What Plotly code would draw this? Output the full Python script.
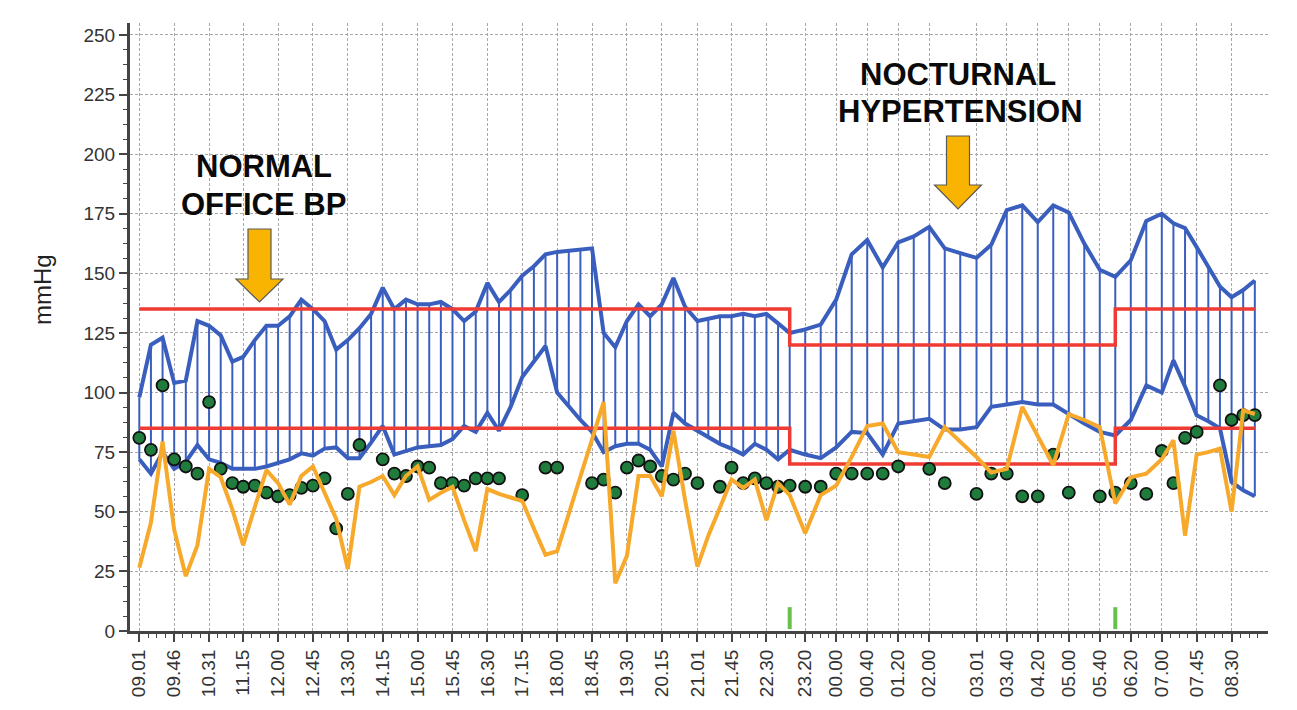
import plotly.graph_objects as go
from datetime import datetime, timedelta

# ---------------- data ----------------
times = [
    # daytime readings
    "09.01", "09.16", "09.31", "09.46", "10.01", "10.16", "10.31", "10.46", "11.01", "11.15",
    "11.30", "11.45", "12.00", "12.15", "12.30", "12.45", "13.00", "13.15", "13.30", "13.45",
    "14.00", "14.15", "14.30", "14.45", "15.00", "15.15", "15.30", "15.45", "16.00", "16.15",
    "16.30", "16.45", "17.00", "17.15", "17.30", "17.45", "18.00", "18.15", "18.30", "18.45",
    "19.00", "19.15", "19.30", "19.45", "20.00", "20.15", "20.30", "20.45", "21.01", "21.15",
    "21.30", "21.45", "22.00", "22.15", "22.30", "22.45", "23.00",
    # night readings
    "23.20", "23.40", "00.00", "00.20", "00.40", "01.00", "01.20", "01.40", "02.00", "02.20",
    "02.40", "03.01", "03.20", "03.40", "04.00", "04.20", "04.40", "05.00", "05.20", "05.40",
    "06.00",
    # morning readings
    "06.20", "06.40", "07.00", "07.15", "07.30", "07.45", "08.00", "08.15", "08.30", "08.45",
    "09.00",
]

systolic = [
    98, 120, 123, 104, 105, 130, 128, 124, 113, 115,
    122, 128, 128, 132, 139, 135, 130, 118, 122, 127,
    133, 144, 135, 139, 137, 137, 138, 135, 130, 134,
    146, 138, 143, 149, 153, 158, 159, 159.5, 160, 160.5,
    125, 119, 130, 137, 132, 137, 148, 136, 130, 131,
    132, 132, 133, 132, 133, 129, 125,
    126.5, 128.5, 139, 158, 164, 152.5, 163, 165.5, 169.5, 160.5,
    158.5, 156.5, 162, 176.5, 178.5, 171.5, 178.5, 175.5, 162.5, 151.5,
    148.5,
    155.5, 172, 175, 171, 169, 161, 153, 144.5, 140, 143,
    147,
]

diastolic = [
    72, 66, 75, 68, 71, 78, 72, 70.5, 68, 68,
    68, 69, 70.5, 72, 74.5, 73.5, 76.5, 77, 72.5, 72.5,
    79, 86, 74, 75.5, 77, 77.5, 78, 80.5, 86, 83.5,
    91.5, 84, 94, 106.5, 113, 119.5, 100, 94, 88.5, 83.5,
    75, 77.5, 78.5, 78.5, 76, 69, 91.5, 87, 84, 81.5,
    78.5, 76.5, 74, 78.5, 76, 72, 76,
    74, 72.5, 77, 83.5, 83, 74, 87, 88, 89, 84.5,
    84.5, 85.5, 94, 95, 96, 95, 95, 91, 87, 83.5,
    82,
    88.5, 103, 100, 113.5, 102.5, 90.5, 88, 85, 62.5, 59,
    56.5,
]

heart_rate = [
    26.5, 45.5, 79.5, 42.5, 23, 36, 68, 64.5, 51, 36,
    52, 67.5, 62, 53, 65, 69, 58, 47, 26, 60.5,
    62.5, 65, 57, 65, 69, 55, 58, 60.5, 46.5, 33.5,
    59.5, 57.5, 56, 54.5, 43, 32, 33.5, 49, 64.5, 80.5,
    96, 20, 31.5, 65, 65, 56.5, 84, 55, 27, 40,
    52, 63.5, 60, 63.5, 46.5, 62, 57,
    41, 57, 61, 73, 86, 87, 75, 74, 73, 85.5,
    79.5, 73, 66.5, 68, 94, 81.5, 69.5, 91, 88.5, 85.5,
    53.5,
    64.5, 66, 72, 80, 40, 74, 75, 76.5, 50, 92.5,
    91,
]

pulse_dots = [
    81, 76, 103, 72, 69, 66, 96, 68, 62, 60.5,
    61, 58, 56.5, 57, 60, 61, 64, 43, 57.5, 78,
    None, 72, 66, 65, 69, 68.5, 62, 62, 61, 64,
    64, 64, None, 57, None, 68.5, 68.5, None, None, 62,
    63.5, 58, 68.5, 71.5, 69, 65, 63.5, 66, 62, None,
    60.5, 68.5, 62, 64, 62, 60.5, 61,
    60.5, 60.5, 66, 66, 66, 66, 69, None, 68, 62,
    None, 57.5, 66, 66, 56.5, 56.5, 74, 58, None, 56.5,
    58,
    62, 57.5, 75.5, 62, 81, 83.5, None, 103, 88.5, 90.5,
    90.5,
]

tick_labels = [
    "09.01", "09.46", "10.31", "11.15", "12.00", "12.45", "13.30", "14.15", "15.00",
    "15.45", "16.30", "17.15", "18.00", "18.45", "19.30", "20.15", "21.01", "21.45",
    "22.30", "23.20", "00.00", "00.40", "01.20", "02.00", "03.01", "03.40", "04.20",
    "05.00", "05.40", "06.20", "07.00", "07.45", "08.30",
]

limit_times = ["09.01", "23.00", "06.00", "09.00"]
limit_systolic = [135, 120, 135, 135]
limit_diastolic = [85, 70, 85, 85]
sleep_marks = ["23.00", "06.00"]
y_ticks = [0, 25, 50, 75, 100, 125, 150, 175, 200, 225, 250]

# ---------------- helpers ----------------
base = datetime(2020, 1, 1)
dts = []
day = 0
prev = None
for s in times:
    h, m = map(int, s.split("."))
    if prev is not None and h < prev:
        day += 1
    prev = h
    dts.append(base + timedelta(days=day, hours=h, minutes=m))
tmap = {}
for s, d in zip(times, dts):
    tmap.setdefault(s, d)
tmap_last = {s: d for s, d in zip(times, dts)}


def lt(s, last=False):
    return (tmap_last if last else tmap)[s]


tick_dt = [lt(s) for s in tick_labels]
minor_dt = []
for a, b in zip(tick_dt[:-1], tick_dt[1:]):
    for k in range(1, 4):
        minor_dt.append(a + (b - a) * k / 4)
step = (tick_dt[-1] - tick_dt[-2]) / 4
for k in range(1, 4):
    minor_dt.append(tick_dt[-1] + step * k)

W, H = 1297, 710
L, R, T, B = 130, 1268, 23, 631


def px(x, y):
    return (x - L) / (R - L), (B - y) / (B - T)


BLUE = "#3A5EBD"
RED = "#EE3B33"
ORANGE = "#F7A92B"
GREEN = "#1F7C3D"
AX = "#444444"
FONT = "Liberation Sans, Arial, sans-serif"

fig = go.Figure()

# hatch verticals
hx, hy = [], []
for d, lo, hi in zip(dts, diastolic, systolic):
    hx += [d, d, None]
    hy += [lo, hi, None]
fig.add_trace(go.Scatter(x=hx, y=hy, mode="lines", line=dict(color=BLUE, width=2),
                         hoverinfo="skip", showlegend=False))
fig.add_trace(go.Scatter(x=dts, y=systolic, mode="lines", line=dict(color=BLUE, width=4),
                         showlegend=False))
fig.add_trace(go.Scatter(x=dts, y=diastolic, mode="lines", line=dict(color=BLUE, width=4),
                         showlegend=False))

# reference limits
lx = [lt(limit_times[0]), lt(limit_times[1]), lt(limit_times[2]), lt(limit_times[3], last=True)]
fig.add_trace(go.Scatter(x=lx, y=limit_systolic, mode="lines",
                         line=dict(color=RED, width=3.5, shape="hv"), showlegend=False))
fig.add_trace(go.Scatter(x=lx, y=limit_diastolic, mode="lines",
                         line=dict(color=RED, width=3.5, shape="hv"), showlegend=False))

# green dots
fig.add_trace(go.Scatter(x=dts, y=pulse_dots, mode="markers",
                         marker=dict(size=12, color=GREEN, line=dict(color="#111111", width=1.8)),
                         showlegend=False))

# orange line
fig.add_trace(go.Scatter(x=dts, y=heart_rate, mode="lines", line=dict(color=ORANGE, width=4),
                         showlegend=False))

# sleep markers
sx, sy = [], []
for s in sleep_marks:
    sx += [lt(s), lt(s), None]
    sy += [0.8, 10, None]
fig.add_trace(go.Scatter(x=sx, y=sy, mode="lines", line=dict(color="#66C04A", width=4),
                         showlegend=False, cliponaxis=False))


# arrows (decoration)
def arrow_path(cx, sw, top, hw, head_top, tip):
    pts = [(cx - sw, top), (cx + sw, top), (cx + sw, head_top), (cx + hw, head_top),
           (cx, tip), (cx - hw, head_top), (cx - sw, head_top)]
    p = []
    for i, (x, y) in enumerate(pts):
        u, v = px(x, y)
        p.append(("M" if i == 0 else "L") + f"{u:.5f},{v:.5f}")
    return " ".join(p) + " Z"


for cx, top, head_top, tip in [(259.5, 229, 279, 302), (958, 136, 185, 209)]:
    fig.add_shape(type="path", xref="paper", yref="paper",
                  path=arrow_path(cx, 11.5, top, 23.5, head_top, tip),
                  fillcolor="#F8B400", line=dict(color="#5a5a5a", width=1.2), layer="above")

texts = [("NORMAL", 264, 167), ("OFFICE BP", 263, 205),
         ("NOCTURNAL", 958, 74), ("HYPERTENSION", 960, 111)]
for t, x, y in texts:
    u, v = px(x, y)
    fig.add_annotation(x=u, y=v, xref="paper", yref="paper", text=f"<b>{t}</b>", showarrow=False,
                       xanchor="center", yanchor="middle",
                       font=dict(family=FONT, size=31, color="#0a0a0a"))

u, v = px(42, 290)
fig.add_annotation(x=u, y=v, xref="paper", yref="paper", text="mmHg", showarrow=False,
                   textangle=-90, xanchor="center", yanchor="middle",
                   font=dict(family=FONT, size=24, color="#222222"))

grid_style = dict(showgrid=True, gridcolor="#A8A8A8", gridwidth=1, griddash="3px,2px")

fig.update_xaxes(type="date",
                 range=[dts[0] - timedelta(minutes=12), dts[-1] + timedelta(minutes=17)],
                 tickmode="array", tickvals=tick_dt, ticktext=tick_labels, tickangle=-90,
                 ticks="outside", ticklen=8, tickwidth=1.5, tickcolor=AX,
                 minor=dict(tickmode="array", tickvals=minor_dt, ticks="outside", ticklen=4,
                            tickcolor=AX, tickwidth=1, showgrid=False),
                 showline=True, linecolor=AX, linewidth=3, zeroline=False,
                 tickfont=dict(size=19, color="#333333"), **grid_style)
fig.update_yaxes(range=[0, 255], tickmode="array", tickvals=y_ticks,
                 ticks="outside", ticklen=8, tickwidth=1.5, tickcolor=AX,
                 minor=dict(dtick=6.25, tick0=0, ticks="outside", ticklen=4, tickcolor=AX,
                            tickwidth=1, showgrid=False),
                 showline=True, linecolor=AX, linewidth=3, zeroline=False,
                 tickfont=dict(size=19, color="#333333"), **grid_style)

fig.update_layout(width=W, height=H, margin=dict(l=L, r=W - R, t=T, b=H - B),
                  plot_bgcolor="white", paper_bgcolor="white",
                  font=dict(family=FONT),
                  showlegend=False)

fig.write_html("out.html")
